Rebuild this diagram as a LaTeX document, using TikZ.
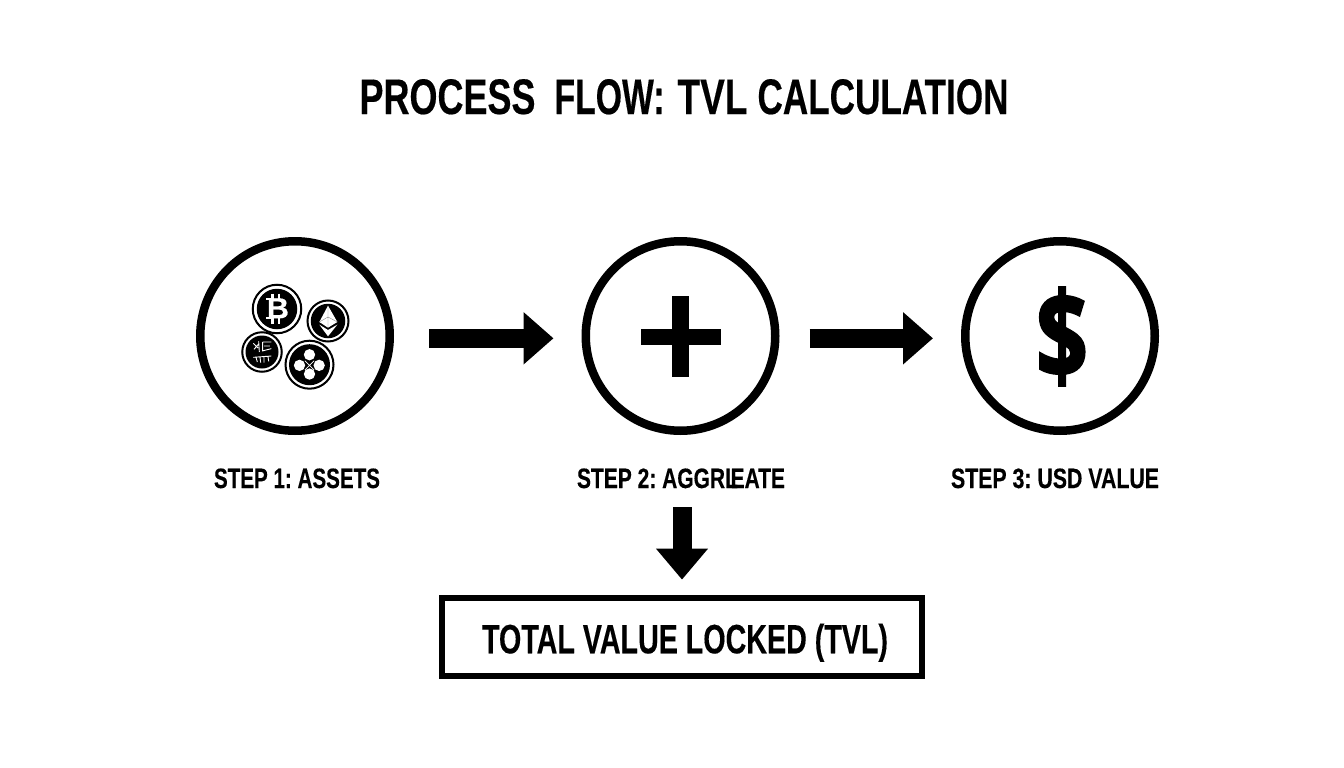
\documentclass[tikz,border=0pt]{standalone}
\usepackage{fontspec}
\usepackage{graphicx}
\usetikzlibrary{arrows.meta}
\setmainfont[BoldFeatures={FakeBold=0.35}]{Liberation Sans}
\newfontfamily\dollarfont[BoldFeatures={FakeBold=2.2}]{Open Sans}
\newcommand{\fitw}[3]{\resizebox{#1}{\height}{\fontsize{#2}{#2}\selectfont\bfseries\frenchspacing #3}}
\tikzset{
  big/.style={circle,draw=black,line width=8.5pt,fill=white,minimum size=189.5pt,inner sep=0pt},
  lab/.style={anchor=base,inner sep=0pt,text=black},
  block/.style={line width=19pt,draw=black,-{Triangle[length=30pt,width=50.5pt]}},
  ringo/.style={circle,draw=black,line width=2pt,fill=white,inner sep=0pt},
  disc/.style={circle,fill=black,inner sep=0pt},
  ico/.style={white,line width=0.9pt}
}
\begin{document}
\begin{tikzpicture}[x=1pt,y=-1pt]
\useasboundingbox[fill=white] (0,0) rectangle (1344,768);
\node[lab] (title) at (684,114) {\fitw{176pt}{50}{PROCESS}\hspace{19pt}\fitw{110pt}{50}{FLOW:}\hspace{13pt}\fitw{70pt}{50}{TVL}\hspace{10pt}\fitw{251pt}{50}{CALCULATION}};
\node[big] (c1) at (295,336) {};
\node[big] (c2) at (680.5,336) {};
\node[big] (c3) at (1060,336) {};
\draw[block,shorten <=35pt,shorten >=28pt] ([yshift=-2.3pt]c1.east) -- ([yshift=-2.3pt]c2.west);
\draw[block,shorten <=30pt,shorten >=28pt] ([yshift=-2.3pt]c2.east) -- ([yshift=-2.3pt]c3.west);
% coins
\node[ringo,minimum size=48.5pt] (btc) at (277,309) {};
\node[disc,minimum size=40.5pt] (btci) at (btc) {};
\node[ringo,minimum size=41pt] (eth) at (328,321) {};
\node[disc,minimum size=34.5pt] (ethi) at (eth) {};
\node[ringo,minimum size=39.5pt] (alt) at (262,352) {};
\node[disc,minimum size=33pt] (alti) at (alt) {};
\node[ringo,minimum size=48pt] (xrp) at (309.5,364.7) {};
\node[disc,minimum size=41pt] (xrpi) at (xrp) {};
% bitcoin
\node[inner sep=0pt,text=white] (btcb) at (278,308.3) {\resizebox{22pt}{20pt}{\bfseries B}};
\draw[white,line width=2.2pt] (272.5,293.5) -- (272.5,298.5) (279,293.5) -- (279,298.5) (272.5,318) -- (272.5,324) (279,318) -- (279,324);
\draw[white,line width=2pt] (266,299) -- (272,299) (266,317.5) -- (272,317.5);
% ether
\begin{scope}[shift={(eth)},x=0.333pt,y=-0.333pt]
\fill[white] (0,-46) -- (28,3) -- (0,20) -- (-26,3) -- cycle;
\fill[white] (-26,11) -- (0,27) -- (28,11) -- (0,46) -- cycle;
\draw[black!45,line width=.4pt] (-26,3) -- (0,-12) -- (28,3) (0,-46) -- (0,20);
\end{scope}
% alt glyphs
\begin{scope}[shift={(alt)},x=0.333pt,y=-0.333pt]
\draw[ico] (-26,-26) -- (-12,-12) (-24,-8) -- (-10,-24) (-10,-32) -- (-8,0) (2,-30) -- (2,-2) (2,-30) -- (28,-30) (6,-18) -- (24,-18) (4,-4) -- (28,-10);
\draw[ico] (-26,16) -- (28,12) (-18,16) -- (-14,30) (-6,15) -- (-4,32) (6,14) -- (6,32) (18,13) -- (20,28);
\end{scope}
% xrp
\begin{scope}[shift={(xrp)},x=0.333pt,y=-0.333pt]
\fill[white] (0,28) circle[radius=17] (0,-30) circle[radius=17] (-30,2) circle[radius=17] (29,2) circle[radius=17];
\draw[white,line width=.8pt] (-14,-12) -- (14,16) (14,-12) -- (-14,16);
\end{scope}
% plus
\fill[black] (672.3,296) rectangle (689,377);
\fill[black] (640.7,329.3) rectangle (720.7,344.7);
% dollar
\node[inner sep=0pt,text=black] (usd) at (1062,336.5) {\resizebox{52pt}{91pt}{\dollarfont\bfseries\$}};
% labels
\node[lab] (s1) at (297,488) {\fitw{166pt}{28}{STEP 1: ASSETS}};
\node[lab] (s2) at (681,488) {\fitw{208pt}{28}{STEP 2: AGGRL\kern-.35em EATE}};
\node[lab] (s3) at (1055,488) {\fitw{208pt}{28}{STEP 3: USD VALUE}};
% box
\node[draw=black,line width=6.2pt,fill=white,minimum width=480pt,minimum height=78.5pt,inner sep=0pt] (tvl) at (682,637) {};
\node[lab] (tvlt) at (685,653.3) {\fitw{406pt}{41}{TOTAL VALUE LOCKED (TVL)}};
\draw[block,shorten <=19pt,shorten >=15pt,-{Triangle[length=31pt,width=50pt]}] (s2.south -| tvl.north) -- (tvl.north);
\end{tikzpicture}
\end{document}
